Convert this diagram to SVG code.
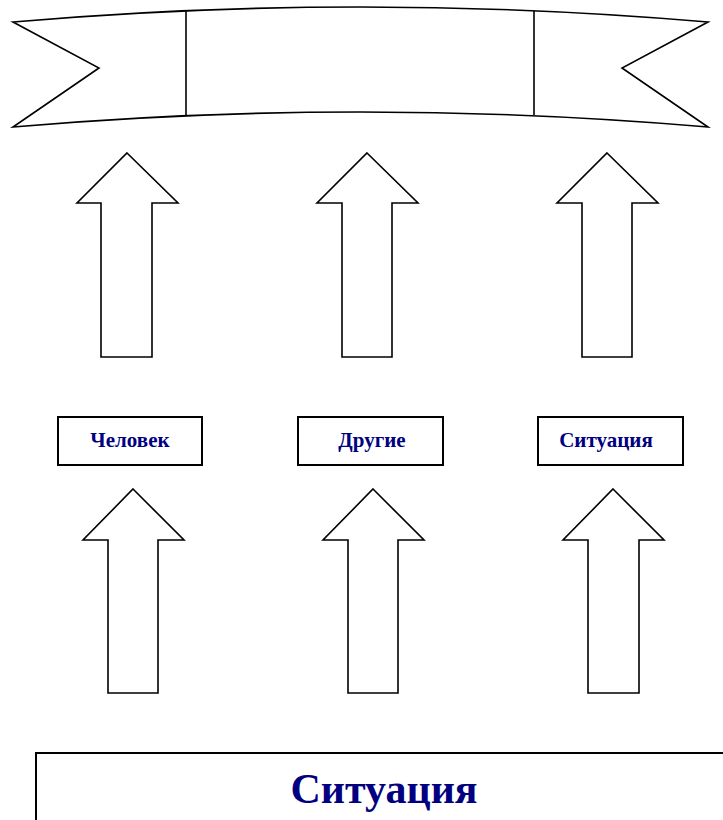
<svg xmlns="http://www.w3.org/2000/svg" width="723" height="820" viewBox="0 0 723 820">
<style>
.ln{fill:#fff;stroke:#000;stroke-width:1.6;stroke-linejoin:miter}
.bx{fill:#fff;stroke:#000;stroke-width:2}
.lbl{font-family:"Liberation Serif","Times New Roman",serif;font-weight:bold;fill:#000080;text-anchor:middle}
</style>
<rect width="723" height="820" fill="#fff"/>
<g id="ribbon">
<path class="ln" d="M13,22 Q360.5,-8 708,22 L622,68 L708,127 Q360.5,97 13,127 L99,68 Z"/>
<line class="ln" x1="186" y1="11" x2="186" y2="115"/>
<line class="ln" x1="534" y1="11" x2="534" y2="115"/>
</g>
<g id="connectors">
<path class="ln" d="M127,153 L178,203 L152,203 L152,357 L101,357 L101,203 L77,203 Z"/>
<path class="ln" d="M367,153 L418,203 L392,203 L392,357 L342,357 L342,203 L317,203 Z"/>
<path class="ln" d="M607,153 L658,203 L632,203 L632,357 L582,357 L582,203 L557,203 Z"/>
<path class="ln" d="M133,489 L184,540 L158,540 L158,693 L108,693 L108,540 L83,540 Z"/>
<path class="ln" d="M373,489 L424,540 L398,540 L398,693 L348,693 L348,540 L323,540 Z"/>
<path class="ln" d="M613,489 L664,540 L639,540 L639,693 L588,693 L588,540 L563,540 Z"/>
</g>
<g id="node-chelovek">
<rect class="bx" x="58" y="417" width="144" height="48"/>
<text class="lbl" x="130" y="447" font-size="21">Человек</text>
</g>
<g id="node-drugie">
<rect class="bx" x="298" y="417" width="145" height="48"/>
<text class="lbl" x="372" y="447" font-size="21">Другие</text>
</g>
<g id="node-situatsiya-small">
<rect class="bx" x="538" y="417" width="145" height="48"/>
<text class="lbl" x="606" y="447" font-size="21">Ситуация</text>
</g>
<g id="node-situatsiya">
<rect class="bx" x="36" y="753" width="700" height="80"/>
<text class="lbl" x="384" y="803" font-size="42">Ситуация</text>
</g>
</svg>
